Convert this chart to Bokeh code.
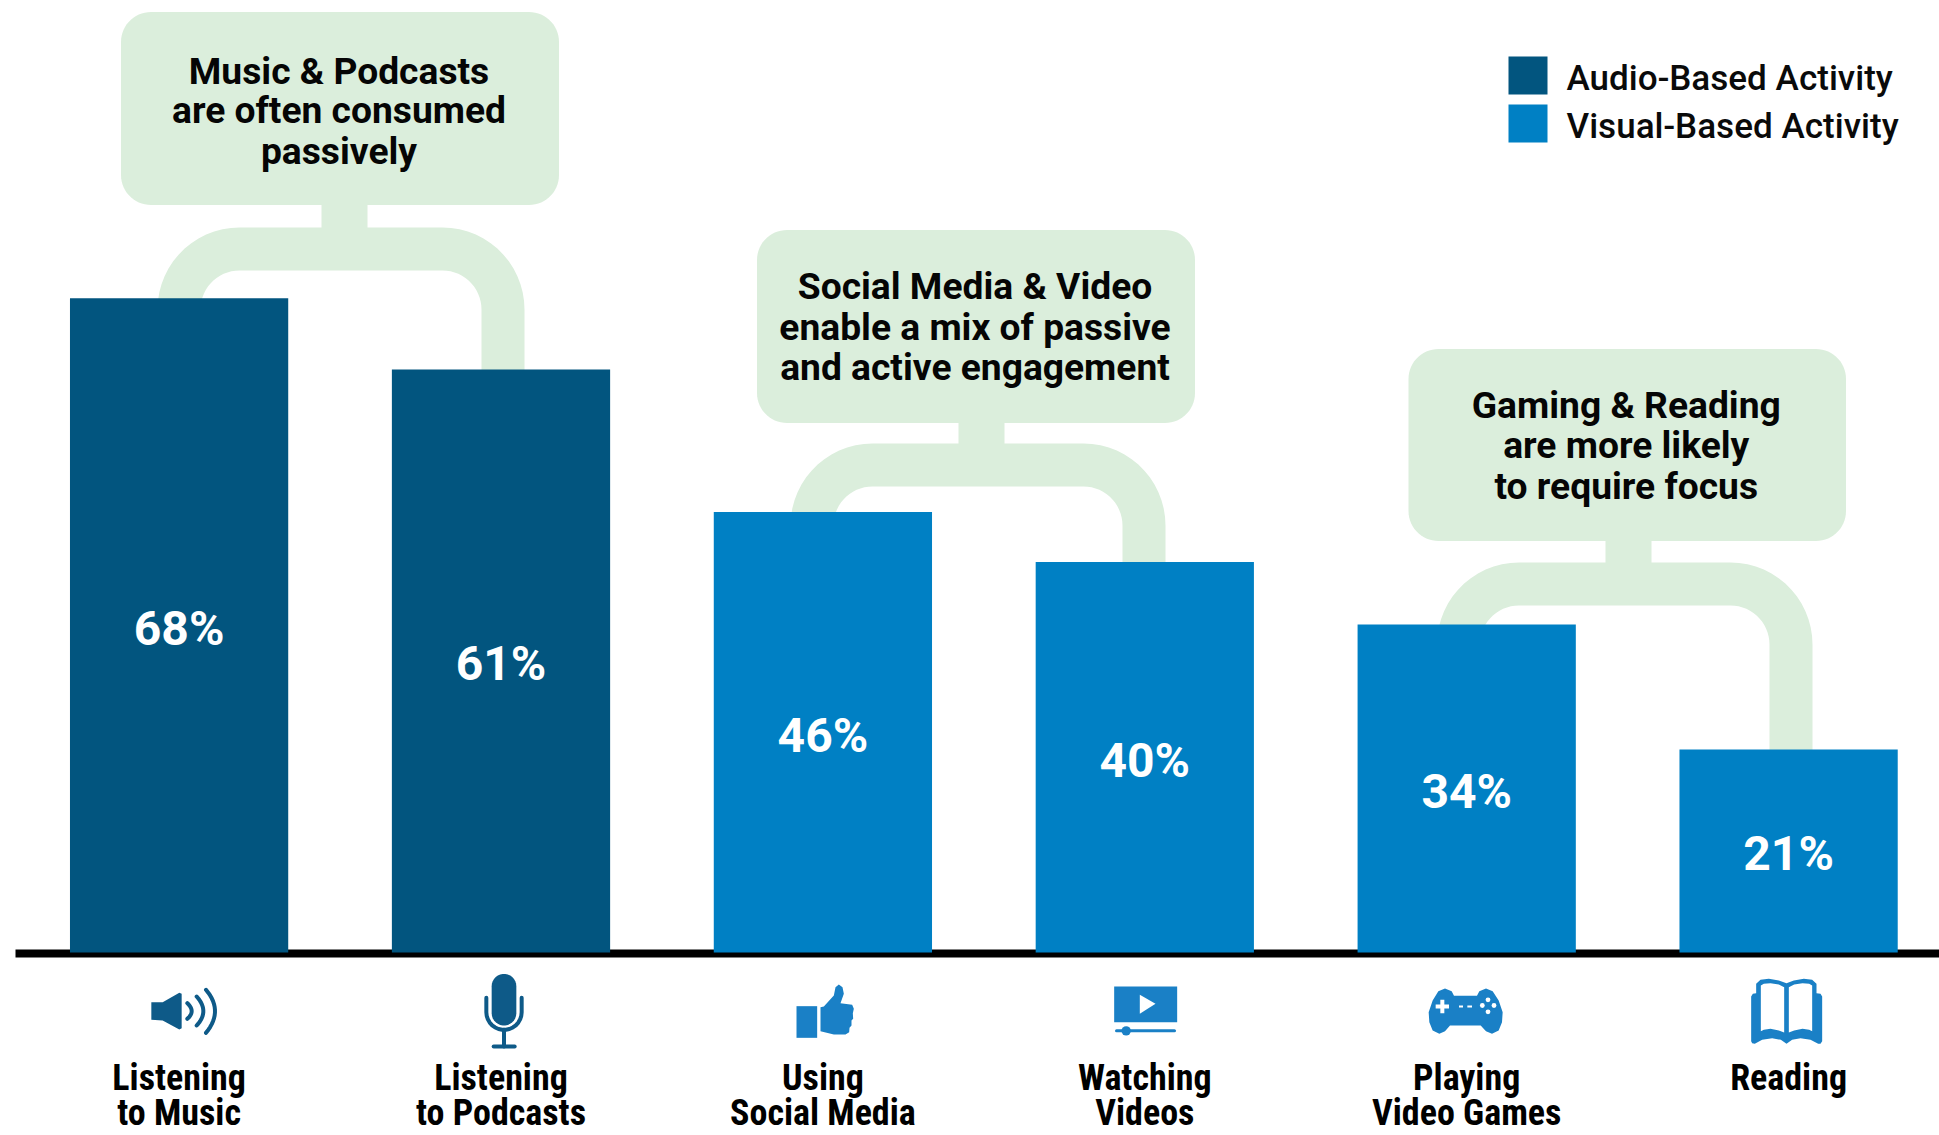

import numpy as np
from bokeh.plotting import figure
from bokeh.embed import file_html
from bokeh.resources import INLINE
from bokeh.core.properties import value

categories = ["Listening\nto Music", "Listening\nto Podcasts", "Using\nSocial Media", "Watching\nVideos", "Playing\nVideo Games", "Reading"]
percent_labels = ["68%", "61%", "46%", "40%", "34%", "21%"]
bar_heights = [68.0, 60.6, 45.8, 40.6, 34.1, 21.1]
series = ["audio", "audio", "visual", "visual", "visual", "visual"]
callouts = ["Music & Podcasts\nare often consumed\npassively", "Social Media & Video\nenable a mix of passive\nand active engagement", "Gaming & Reading\nare more likely\nto require focus"]
legend_labels = ["Audio-Based Activity", "Visual-Based Activity"]

DARK, BLUE, GREEN = "#02557f", "#0080c4", "#dbeedc"
IC_D, IC_B = "#0e5a88", "#1a80c6"
W, H = 1939, 1135
PITCH, X0, BASE, K = 321.9, 178.6, 952.0, 9.62

def X(px): return (np.asarray(px, float) - X0) / PITCH
def Y(py): return (BASE - np.asarray(py, float)) / K

p = figure(width=W, height=H, output_backend="svg", toolbar_location=None,
           x_range=(float(X(0)), float(X(W))), y_range=(float(Y(H)), float(Y(0))),
           min_border=0, outline_line_color=None)
p.axis.visible = False
p.grid.visible = False

def arc(cx, cy, r, a0, a1, n=16):
    t = np.radians(np.linspace(a0, a1, n))
    return cx + r * np.cos(t), cy + r * np.sin(t)

def fill(xs, ys, color):
    p.patch(X(xs), Y(ys), fill_color=color, line_color=None)

def poly(pts, ox, oy, color, s=3.0):
    a = np.array(pts, float)
    fill(ox + a[:, 0] / s, oy + a[:, 1] / s, color)

def stroke(xs, ys, color, w):
    p.line(X(xs), Y(ys), line_color=color, line_width=w, line_cap="round", line_join="round")

def bez(a, b, c, n=16):
    t = np.linspace(0, 1, n)
    a, b, c = [np.array(v, float) for v in (a, b, c)]
    ctrl = 2 * b - (a + c) / 2
    pts = np.outer((1 - t) ** 2, a) + np.outer(2 * t * (1 - t), ctrl) + np.outer(t ** 2, c)
    return pts[:, 0], pts[:, 1]

def round_rect(l, t, r, b, rad, color):
    parts = [arc(r - rad, t + rad, rad, -90, 0), arc(r - rad, b - rad, rad, 0, 90),
             arc(l + rad, b - rad, rad, 90, 180), arc(l + rad, t + rad, rad, 180, 270)]
    fill(np.concatenate([a[0] for a in parts]), np.concatenate([a[1] for a in parts]), color)

def callout(l, t, r, b, text, stem_c, top, arch_l, arch_r, end_l, end_r, text_ys):
    round_rect(l, t, r, b, 30, GREEN)
    p.quad(left=X(stem_c - 23), right=X(stem_c + 23), top=Y(b - 1), bottom=Y(top + 5), fill_color=GREEN, line_color=None)
    thick, R = 43, 82
    r2 = R - thick
    o1 = arc(arch_l + R, top + R, R, 180, 270)
    o2 = arc(arch_r - R, top + R, R, 270, 360)
    i2 = arc(arch_r - R, top + R, r2, 360, 270)
    i1 = arc(arch_l + R, top + R, r2, 270, 180)
    xs = np.concatenate([[arch_l], o1[0], o2[0], [arch_r, arch_r - thick], i2[0], i1[0], [arch_l + thick]])
    ys = np.concatenate([[end_l], o1[1], o2[1], [end_r, end_r], i2[1], i1[1], [end_l]])
    fill(xs, ys, GREEN)
    for line, y in zip(text.split("\n"), text_ys):
        p.text([float(X((l + r) / 2 - 1))], [float(Y(y))], text=[line], text_align="center", text_baseline="middle",
               text_font=value("Roboto"), text_font_style="bold", text_font_size="37.2px", text_color="#050505")

tops = BASE - np.array(bar_heights) * K
callout(120.5, 11.5, 558.5, 204.5, callouts[0], 344, 227, 157, 524, tops[0] + 4, tops[1] + 4, [70, 109.5, 150.5])
callout(756.5, 229.5, 1194.5, 422.5, callouts[1], 981, 443, 790, 1165, tops[2] + 4, tops[3] + 4, [285, 326, 366])
callout(1408, 348.5, 1845.5, 540.5, callouts[2], 1628, 562, 1436.5, 1812, tops[4] + 4, tops[5] + 4, [404, 444, 485])

# baseline
p.quad(left=X(15), right=X(W), top=Y(949), bottom=Y(957), fill_color="black", line_color=None)

# bars
xs = np.arange(len(categories))
colors = [DARK if s == "audio" else BLUE for s in series]
p.vbar(x=xs, top=bar_heights, bottom=0, width=0.678, fill_color=colors, line_color=None)
p.text(xs, np.array(bar_heights) / 2 - 0.3, text=percent_labels, text_align="center", text_baseline="middle",
       text_font=value("Roboto"), text_font_style="bold", text_font_size="48px", text_color="white")

# category labels
for i, c in enumerate(categories):
    for j, line in enumerate(c.split("\n")):
        p.text([i], [float(Y(1077 + j * 35))], text=[line], text_align="center", text_baseline="middle",
               text_font=value("Roboto Condensed, DejaVu Sans Condensed, Roboto"), text_font_style="bold", text_font_size="36px", text_color="black")

# legend
for i, (lab, col) in enumerate(zip(legend_labels, [DARK, BLUE])):
    t = 56 + i * 48
    p.quad(left=X(1508), right=X(1547), top=Y(t), bottom=Y(t + 38), fill_color=col, line_color=None)
    p.text([float(X(1566))], [float(Y(t + 22))], text=[lab], text_align="left", text_baseline="middle",
           text_font=value("Roboto Medium, Roboto"), text_font_size="35px", text_color="#0a0a0a")

# icons: speaker
ox, oy = 129.5, 960
poly([(64,125),(98,125),(148,97),(155,100),(155,203),(148,207),(98,180),(64,178)], ox, oy, IC_D)
for a, b, c, w in [((172,128),(185,152),(172,175),4), ((200,108),(220,152),(200,195),4), ((228,88),(255,152),(228,217),4)]:
    bx, by = bez(a, b, c)
    stroke(ox + bx / 3, oy + by / 3, IC_D, w)
# microphone
mx, my = arc(1122, 77, 37, 180, 360)
nx, ny = arc(1122, 158, 37, 0, 180)
fill(ox + np.concatenate([mx, nx]) / 3, oy + np.concatenate([my, ny]) / 3, IC_D)
ux, uy = arc(1122, 155, 53, 0, 180)
stroke(ox + np.concatenate([[1175], ux, [1069]]) / 3, oy + np.concatenate([[112], uy, [112]]) / 3, IC_D, 4)
stroke(ox + np.array([1122, 1122]) / 3, oy + np.array([208, 258]) / 3, IC_D, 4)
stroke(ox + np.array([1091, 1154]) / 3, oy + np.array([258, 258]) / 3, IC_D, 4)
# thumb
ox, oy = 770, 970
poly([(78,107),(140,107),(140,202),(78,202)], ox, oy, IC_B)
poly([(150,110),(160,108),(190,75),(195,50),(205,42),(216,50),(220,70),(210,98),(245,103),(250,115),(247,128),(248,145),(243,150),(243,165),(237,172),(236,185),(225,192),(190,192),(150,182)], ox, oy, IC_B)
# video
ox, oy = 1100, 970
poly([(41,48),(230,48),(230,155),(41,155)], ox, oy, IC_B)
poly([(118,73),(165,100),(118,130)], ox, oy, "white")
stroke(ox + np.array([48, 222]) / 3, oy + np.array([181, 181]) / 3, IC_B, 3)
p.circle([float(X(ox + 77 / 3))], [float(Y(oy + 181 / 3))], radius=4.7 / PITCH, fill_color=IC_B, line_color=None)
# gamepad
ox, oy = 1409.5, 970
poly([(132,76),(125,62),(105,54),(85,62),(68,90),(56,125),(58,155),(68,180),(88,190),(105,182),(120,165),(212,165),(228,182),(246,190),(266,180),(276,155),(278,125),(266,90),(248,62),(228,54),(208,62),(201,76)], ox, oy, IC_B)
poly([(91,88),(103,88),(103,102),(117,102),(117,114),(103,114),(103,128),(91,128),(91,114),(77,114),(77,102),(91,102)], ox, oy, "white")
poly([(147,105),(159,105),(159,111),(147,111)], ox, oy, "white")
poly([(172,105),(186,105),(186,111),(172,111)], ox, oy, "white")
p.circle(X(ox + np.array([217, 234, 252, 234]) / 3), Y(oy + np.array([105, 88, 105, 124]) / 3), radius=2.4 / PITCH, fill_color="white", line_color=None)
# book
ox, oy = 1725, 970
poly([(92,40),(105,28),(130,25),(160,30),(183,38),(205,30),(235,25),(260,28),(273,40),(273,68),(285,70),(290,78),(290,212),(285,220),(278,220),(255,208),(225,203),(200,208),(183,220),(166,208),(140,203),(110,208),(88,220),(80,218),(77,212),(77,78),(82,70),(92,68)], ox, oy, IC_B)
left_page = [(106,45),(115,40),(135,38),(160,42),(176,50),(176,186),(160,180),(135,175),(115,178),(106,182)]
poly(left_page, ox, oy, "white")
poly([(366 - a, b) for a, b in left_page], ox, oy, "white")

open("out.html", "w").write(file_html(p, INLINE))
